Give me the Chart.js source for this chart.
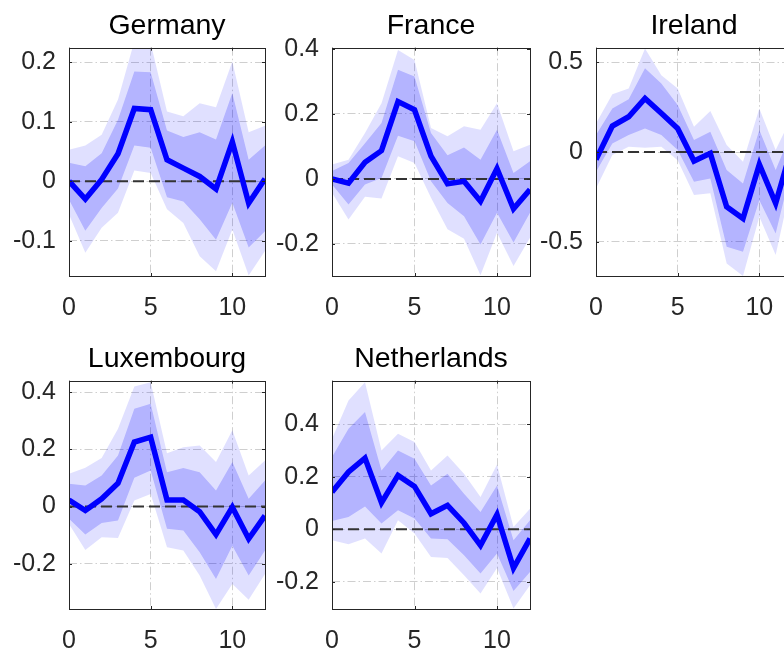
<!DOCTYPE html>
<html>
<head>
<meta charset="utf-8">
<script src="https://cdn.jsdelivr.net/npm/chart.js@4.4.0/dist/chart.umd.min.js"></script>
<style>
  html, body { margin: 0; padding: 0; background: #fff; overflow: hidden; }
  body { width: 784px; height: 650px; position: relative; }
  canvas { position: absolute; }
</style>
</head>
<body>
<script>
// horizonte (x-Achse)
const horizons = [0, 1, 2, 3, 4, 5, 6, 7, 8, 9, 10, 11, 12];
const xTicks = [0, 5, 10];

// Germany
const deIrf  = [0, -0.030, 0.003, 0.046, 0.122, 0.120, 0.036, 0.022, 0.008, -0.013, 0.066, -0.037, 0.004];
const deHi68 = [0.031, 0.025, 0.047, 0.103, 0.184, 0.183, 0.085, 0.074, 0.082, 0.070, 0.148, 0.036, 0.060];
const deLo68 = [-0.031, -0.083, -0.045, -0.012, 0.060, 0.056, -0.027, -0.034, -0.064, -0.098, -0.036, -0.111, -0.084];
const deHi90 = [0.053, 0.060, 0.078, 0.137, 0.235, 0.232, 0.117, 0.109, 0.131, 0.124, 0.201, 0.082, 0.093];
const deLo90 = [-0.056, -0.120, -0.078, -0.053, 0.018, 0.014, -0.047, -0.070, -0.126, -0.151, -0.081, -0.158, -0.117];

// France
const frIrf  = [0, -0.013, 0.051, 0.087, 0.238, 0.213, 0.070, -0.015, -0.007, -0.069, 0.032, -0.092, -0.033];
const frHi68 = [0.024, 0.049, 0.110, 0.172, 0.336, 0.315, 0.141, 0.073, 0.097, 0.059, 0.151, 0.018, 0.054];
const frLo68 = [-0.017, -0.079, -0.017, 0.003, 0.133, 0.116, -0.007, -0.074, -0.115, -0.202, -0.104, -0.196, -0.104];
const frHi90 = [0.044, 0.059, 0.141, 0.233, 0.397, 0.366, 0.157, 0.131, 0.162, 0.151, 0.233, 0.085, 0.105];
const frLo90 = [-0.043, -0.125, -0.055, -0.060, 0.070, 0.049, -0.058, -0.155, -0.184, -0.297, -0.166, -0.268, -0.181];

// Ireland
const ieIrf  = [-0.041, 0.145, 0.197, 0.299, 0.216, 0.132, -0.050, -0.007, -0.305, -0.370, -0.069, -0.286, 0.030];
const ieHi68 = [0.095, 0.243, 0.294, 0.467, 0.383, 0.262, 0.067, 0.113, -0.100, -0.175, 0.123, -0.100, 0.120];
const ieLo68 = [-0.110, 0.048, 0.095, 0.132, 0.095, 0.011, -0.165, -0.147, -0.528, -0.556, -0.268, -0.454, -0.080];
const ieHi90 = [0.160, 0.322, 0.355, 0.578, 0.429, 0.355, 0.141, 0.229, 0.039, -0.054, 0.243, 0.011, 0.200];
const ieLo90 = [-0.203, -0.017, 0.030, 0.024, 0.030, -0.045, -0.240, -0.230, -0.621, -0.691, -0.361, -0.574, -0.160];

// Luxembourg
const luIrf  = [0.023, -0.014, 0.027, 0.082, 0.226, 0.243, 0.023, 0.023, -0.018, -0.098, -0.002, -0.113, -0.032];
const luHi68 = [0.080, 0.074, 0.109, 0.179, 0.343, 0.360, 0.120, 0.135, 0.120, 0.056, 0.156, 0.027, 0.091];
const luLo68 = [-0.043, -0.098, -0.058, -0.049, 0.101, 0.126, -0.078, -0.084, -0.160, -0.254, -0.137, -0.242, -0.154];
const luHi90 = [0.115, 0.136, 0.170, 0.273, 0.421, 0.436, 0.187, 0.208, 0.214, 0.156, 0.267, 0.109, 0.161];
const luLo90 = [-0.061, -0.152, -0.108, -0.110, 0.021, 0.044, -0.143, -0.154, -0.242, -0.359, -0.271, -0.327, -0.236];

// Netherlands
const nlIrf  = [0.142, 0.218, 0.271, 0.101, 0.205, 0.163, 0.059, 0.091, 0.024, -0.061, 0.056, -0.147, -0.035];
const nlHi68 = [0.275, 0.382, 0.446, 0.224, 0.300, 0.268, 0.167, 0.211, 0.135, 0.066, 0.167, -0.042, 0.034];
const nlLo68 = [0.032, 0.047, 0.087, 0.022, 0.072, 0.041, -0.035, -0.038, -0.099, -0.168, -0.092, -0.235, -0.162];
const nlHi90 = [0.344, 0.490, 0.559, 0.300, 0.363, 0.332, 0.224, 0.281, 0.211, 0.123, 0.246, 0.009, 0.078];
const nlLo90 = [-0.042, -0.057, -0.035, -0.092, 0.034, -0.016, -0.105, -0.109, -0.175, -0.244, -0.147, -0.301, -0.213];

// y-Achsen: Bereich und Ticks
const deRange = [-0.159, 0.224];
const frRange = [-0.299, 0.404];
const ieRange = [-0.691, 0.582];
const luRange = [-0.359, 0.441];
const nlRange = [-0.303, 0.565];
const deTicks = [-0.1, 0, 0.1, 0.2];
const frTicks = [-0.2, 0, 0.2, 0.4];
const ieTicks = [-0.5, 0, 0.5];
const luTicks = [-0.2, 0, 0.2, 0.4];
const nlTicks = [-0.2, 0, 0.2, 0.4];

const FONT = "'Liberation Sans', Arial, Helvetica, sans-serif";
const Y_AXIS_W = 66;
const X_AXIS_H = 50;
const TITLE_OFF = 38.7;
const TITLE_SIZE = 28.5;

const pts = arr => horizons.map((h, i) => ({ x: h, y: arr[i] }));
const fmt = v => String(Math.round(v * 100) / 100);

// Rahmen, Nulllinie, Tick-Striche
const framePlugin = {
  id: 'frame',
  beforeDatasetDraw(chart, args) {
    if (args.index !== 0) return;
    const { ctx, chartArea: a, scales } = chart;
    const y0 = scales.y.getPixelForValue(0);
    ctx.save();
    ctx.strokeStyle = '#333333';
    ctx.lineWidth = 2;
    ctx.setLineDash([11, 5]);
    ctx.beginPath();
    ctx.moveTo(a.left, y0);
    ctx.lineTo(a.right, y0);
    ctx.stroke();
    ctx.restore();
  },
  afterDraw(chart) {
    const { ctx, chartArea: a, scales } = chart;
    ctx.save();
    ctx.strokeStyle = '#262626';
    ctx.lineWidth = 1;
    ctx.beginPath();
    scales.y.ticks.forEach(t => {
      const y = Math.round(scales.y.getPixelForValue(t.value)) + 0.5;
      ctx.moveTo(a.left, y); ctx.lineTo(a.left + 3, y);
      ctx.moveTo(a.right, y); ctx.lineTo(a.right - 3, y);
    });
    scales.x.ticks.forEach(t => {
      const x = Math.round(scales.x.getPixelForValue(t.value)) + 0.5;
      ctx.moveTo(x, a.bottom); ctx.lineTo(x, a.bottom - 3);
      ctx.moveTo(x, a.top); ctx.lineTo(x, a.top + 3);
    });
    ctx.stroke();
    ctx.strokeRect(Math.round(a.left) + 0.5, Math.round(a.top) + 0.5,
                   Math.round(a.right - a.left), Math.round(a.bottom - a.top));
    ctx.restore();
  }
};

function makePanel(title, irf, lo68, hi68, lo90, hi90, range, yTicks, box) {
  const [left, top, right, bottom] = box;
  const cx = left - Y_AXIS_W;
  const cy = top - TITLE_OFF;
  const w = Math.round(right + 4 - cx);
  const h = Math.round(bottom + X_AXIS_H - cy);

  const canvas = document.createElement('canvas');
  canvas.width = w;
  canvas.height = h;
  canvas.style.left = cx + 'px';
  canvas.style.top = cy + 'px';
  canvas.style.width = w + 'px';
  canvas.style.height = h + 'px';
  document.body.appendChild(canvas);

  const grid = { color: '#cfcfcf', lineWidth: 1, drawTicks: false };
  const border = { display: false, dash: [8, 3, 1.5, 3] };
  const tickFont = { family: FONT, size: 25 };

  new Chart(canvas, {
    type: 'line',
    data: {
      datasets: [
        { data: pts(irf), borderColor: 'rgb(0,0,255)', borderWidth: 5.5, pointRadius: 0, fill: false, borderJoinStyle: 'miter' },
        { data: pts(hi68), borderColor: 'transparent', borderWidth: 0, pointRadius: 0, fill: '+1', backgroundColor: 'rgba(0,0,255,0.2)' },
        { data: pts(lo68), borderColor: 'transparent', borderWidth: 0, pointRadius: 0, fill: false },
        { data: pts(hi90), borderColor: 'transparent', borderWidth: 0, pointRadius: 0, fill: '+1', backgroundColor: 'rgba(0,0,255,0.12)' },
        { data: pts(lo90), borderColor: 'transparent', borderWidth: 0, pointRadius: 0, fill: false }
      ]
    },
    options: {
      responsive: false,
      animation: false,
      devicePixelRatio: 1,
      layout: { padding: { left: 0, right: 4, top: 0, bottom: 0 } },
      plugins: {
        legend: { display: false },
        tooltip: { enabled: false },
        title: {
          display: true,
          text: title,
          fullSize: false,
          color: '#000',
          font: { family: FONT, size: TITLE_SIZE, weight: 'normal', lineHeight: 1.2 },
          padding: { top: 0, bottom: TITLE_OFF - TITLE_SIZE * 1.2 }
        }
      },
      scales: {
        x: {
          type: 'linear',
          min: 0,
          max: 12,
          afterFit: s => { s.height = X_AXIS_H; },
          afterBuildTicks: s => { s.ticks = xTicks.map(v => ({ value: v })); },
          border,
          grid,
          ticks: { padding: 17, maxRotation: 0, color: '#262626', font: tickFont, callback: fmt }
        },
        y: {
          min: range[0],
          max: range[1],
          afterFit: s => { s.width = Y_AXIS_W; },
          afterBuildTicks: s => { s.ticks = yTicks.map(v => ({ value: v })); },
          border,
          grid,
          ticks: { padding: 13, color: '#262626', font: tickFont, callback: fmt }
        }
      }
    },
    plugins: [framePlugin]
  });
}

// Positionen der Plotflächen [links, oben, rechts, unten]
makePanel('Germany', deIrf, deLo68, deHi68, deLo90, deHi90, deRange, deTicks, [69, 47.7, 265, 276]);
makePanel('France', frIrf, frLo68, frHi68, frLo90, frHi90, frRange, frTicks, [331.7, 47.7, 529.3, 276]);
makePanel('Ireland', ieIrf, ieLo68, ieHi68, ieLo90, ieHi90, ieRange, ieTicks, [595.7, 47.7, 791.7, 276]);
makePanel('Luxembourg', luIrf, luLo68, luHi68, luLo90, luHi90, luRange, luTicks, [69, 380.7, 265, 608.7]);
makePanel('Netherlands', nlIrf, nlLo68, nlHi68, nlLo90, nlHi90, nlRange, nlTicks, [331.7, 380.7, 529.3, 608.7]);
</script>
</body>
</html>
